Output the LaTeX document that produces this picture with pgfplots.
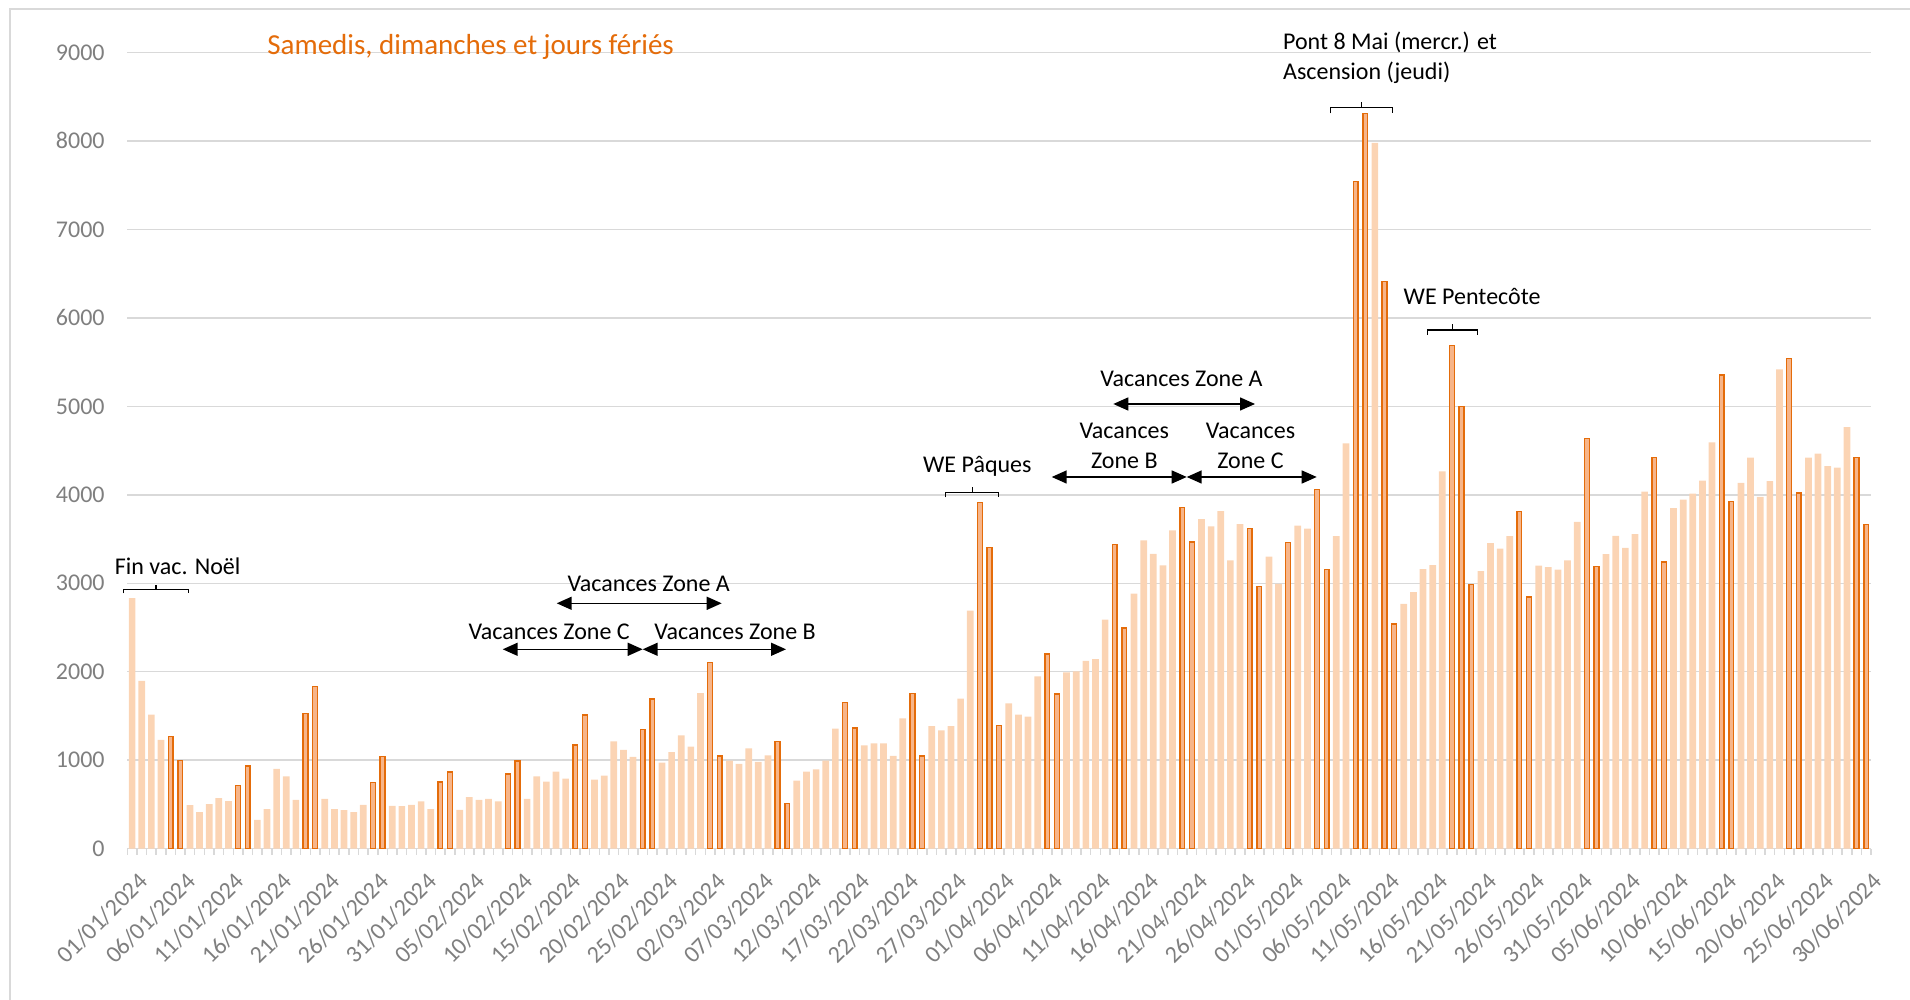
\documentclass[border=0pt]{standalone}
\usepackage{pgfplots}
\pgfplotsset{compat=1.18}
\usepackage{pgfplotstable}
\usepackage{fontspec}
\setmainfont{Carlito}
\usetikzlibrary{arrows.meta}
\definecolor{lightbar}{HTML}{FBD4B4}
\definecolor{darkfill}{HTML}{F7B589}
\definecolor{darkline}{HTML}{E46C0A}
\definecolor{gridc}{HTML}{D9D9D9}
\definecolor{tickc}{HTML}{7F7F7F}
\newcommand{\px}[2]{({(#1-127.3)*0.5},{(848.7-#2)*0.5})}
\newcommand{\bracket}[6]{\draw[black, line width=0.6pt] \px{#1}{#4} -- \px{#1}{#3} -- \px{#2}{#3} -- \px{#2}{#4}; \draw[black, line width=0.6pt] \px{#5}{#3} -- \px{#5}{#6};}
\newcommand{\darrow}[3]{\draw[black, line width=0.75pt, {Triangle[length=7.5pt,width=6.5pt]}-{Triangle[length=7.5pt,width=6.5pt]}] \px{#1}{#3} -- \px{#2}{#3};}

\pgfplotstableread{
i v
0 2833
1 1898
2 1515
3 1231
6 492
7 413
8 504
9 572
10 538
13 326
14 447
15 902
16 818
17 553
20 564
21 447
22 436
23 413
24 496
27 485
28 481
29 494
30 535
31 447
34 439
35 583
36 553
37 564
38 534
41 564
42 818
43 758
44 871
45 792
48 780
49 826
50 1212
51 1117
52 1038
55 973
56 1091
57 1280
58 1155
59 1758
62 995
63 958
64 1135
65 980
66 1056
69 769
70 871
71 897
72 995
73 1357
76 1169
77 1191
78 1191
79 1048
80 1474
83 1384
84 1338
85 1384
86 1697
87 2692
91 1643
92 1515
93 1492
94 1947
97 1992
98 2004
99 2124
100 2143
101 2590
104 2883
105 3485
106 3331
107 3203
108 3598
111 3726
112 3643
113 3816
114 3259
115 3669
118 3301
119 2992
121 3651
122 3617
125 3532
126 4580
129 7977
132 2766
133 2901
134 3161
135 3206
136 4265
140 3138
141 3454
142 3392
143 3532
146 3200
147 3183
148 3155
149 3259
150 3694
153 3329
154 3536
155 3401
156 3556
157 4036
160 3849
161 3944
162 4012
163 4159
164 4591
167 4135
168 4421
169 3976
170 4155
171 5417
174 4421
175 4464
176 4325
177 4306
178 4766
}\lightdata

\pgfplotstableread{
i v
4 1265
5 1000
11 712
12 936
18 1527
19 1830
25 750
26 1045
32 754
33 867
39 845
40 992
46 1174
47 1511
53 1345
54 1693
60 2103
61 1048
67 1210
68 513
74 1651
75 1365
81 1753
82 1048
88 3913
89 3404
90 1390
95 2199
96 1748
102 3436
103 2496
109 3857
110 3466
116 3620
117 2966
120 3458
123 4062
124 3155
127 7544
128 8310
130 6411
131 2541
137 5690
138 4997
139 2986
144 3814
145 2845
151 4639
152 3187
158 4421
159 3242
165 5353
166 3925
172 5540
173 4020
179 4421
180 3663
}\darkdata

\begin{document}
\begin{tikzpicture}[x=1pt,y=1pt]
\path[use as bounding box] (-63.65,-75.65) rectangle (891.35,424.35);
\draw[gridc, line width=1pt] \px{10}{1000} -- \px{10}{9} -- \px{1910}{9};
\begin{axis}[
  at={(0,0)}, anchor=south west,
  scale only axis, width=871.85pt, height=398.15pt,
  xmin=-0.5, xmax=180.5, ymin=0, ymax=9000,
  clip=false,
  axis line style={draw=none},
  xtick pos=bottom, ytick pos=left,
  ymajorgrids,
  major grid style={gridc, line width=0.75pt},
  ytick={0,1000,...,9000},
  xtick={0,5,...,180},
  xticklabels={01/01/2024,06/01/2024,11/01/2024,16/01/2024,21/01/2024,26/01/2024,31/01/2024,05/02/2024,10/02/2024,15/02/2024,20/02/2024,25/02/2024,02/03/2024,07/03/2024,12/03/2024,17/03/2024,22/03/2024,27/03/2024,01/04/2024,06/04/2024,11/04/2024,16/04/2024,21/04/2024,26/04/2024,01/05/2024,06/05/2024,11/05/2024,16/05/2024,21/05/2024,26/05/2024,31/05/2024,05/06/2024,10/06/2024,15/06/2024,20/06/2024,25/06/2024,30/06/2024},
  minor xtick={-0.5,0.5,...,180.5},
  tick align=outside,
  major tick length=0pt,
  minor tick length=3pt,
  minor tick style={gridc, line width=0.75pt},
  major tick style={draw=none},
  /pgf/number format/assume math mode=true,
  /pgf/number format/1000 sep={},
  every tick label/.append style={font=\fontsize{12}{14}\selectfont, text=tickc},
  yticklabel style={inner sep=0pt, anchor=east, xshift=-11.15pt},
  xticklabel style={inner sep=0pt, xshift=2.5pt, yshift=-11pt, rotate=45, anchor=north east},
]
\addplot[ybar, bar width=3.35pt, bar shift=0pt, fill=lightbar, draw=none] table[x=i,y=v]{\lightdata};
\addplot[ybar, bar width=2.4pt, bar shift=0pt, fill=darkfill, draw=darkline, line width=0.7pt] table[x=i,y=v]{\darkdata};
\end{axis}
\begin{scope}[font=\fontsize{12}{14}\selectfont]
\node[anchor=base west, text=darkline, font=\fontsize{14.5}{17}\selectfont, inner sep=0pt] at \px{267}{54.3} {Samedis, dimanches et jours fériés};
\node[anchor=base west, inner sep=0pt] at \px{114.5}{575} {Fin vac. Noël};
\bracket{123.3}{188.3}{589.3}{593.5}{156}{584.7}
\node[anchor=base west, inner sep=0pt] at \px{567.3}{591.7} {Vacances Zone A};
\darrow{556.7}{721.7}{603.3}
\node[anchor=base west, inner sep=0pt] at \px{468.3}{640} {Vacances Zone C};
\darrow{502.7}{642.7}{649.3}
\node[anchor=base west, inner sep=0pt] at \px{654}{640} {Vacances Zone B};
\darrow{642.7}{786}{649.3}
\node[anchor=base west, inner sep=0pt] at \px{922.7}{472.3} {WE Pâques};
\bracket{945.3}{998.3}{492.3}{497.3}{972.3}{486.7}
\node[anchor=base, inner sep=0pt] at \px{1124.3}{438.3} {Vacances};
\node[anchor=base, inner sep=0pt] at \px{1124.3}{468.3} {Zone B};
\darrow{1051.7}{1186.7}{477}
\node[anchor=base, inner sep=0pt] at \px{1250.5}{438.3} {Vacances};
\node[anchor=base, inner sep=0pt] at \px{1250.5}{468.3} {Zone C};
\darrow{1186.7}{1316.7}{477}
\node[anchor=base west, inner sep=0pt] at \px{1100}{387} {Vacances Zone A};
\darrow{1113.3}{1255}{404}
\node[anchor=base west, inner sep=0pt] at \px{1282.7}{50} {Pont 8 Mai (mercr.) et};
\node[anchor=base west, inner sep=0pt] at \px{1282.7}{80} {Ascension (jeudi)};
\bracket{1330.7}{1392.7}{107.3}{113.3}{1361.7}{101.7}
\node[anchor=base west, inner sep=0pt] at \px{1403.3}{305} {WE Pentecôte};
\bracket{1427.7}{1477.7}{330}{335}{1452.3}{324}
\end{scope}
\end{tikzpicture}
\end{document}
